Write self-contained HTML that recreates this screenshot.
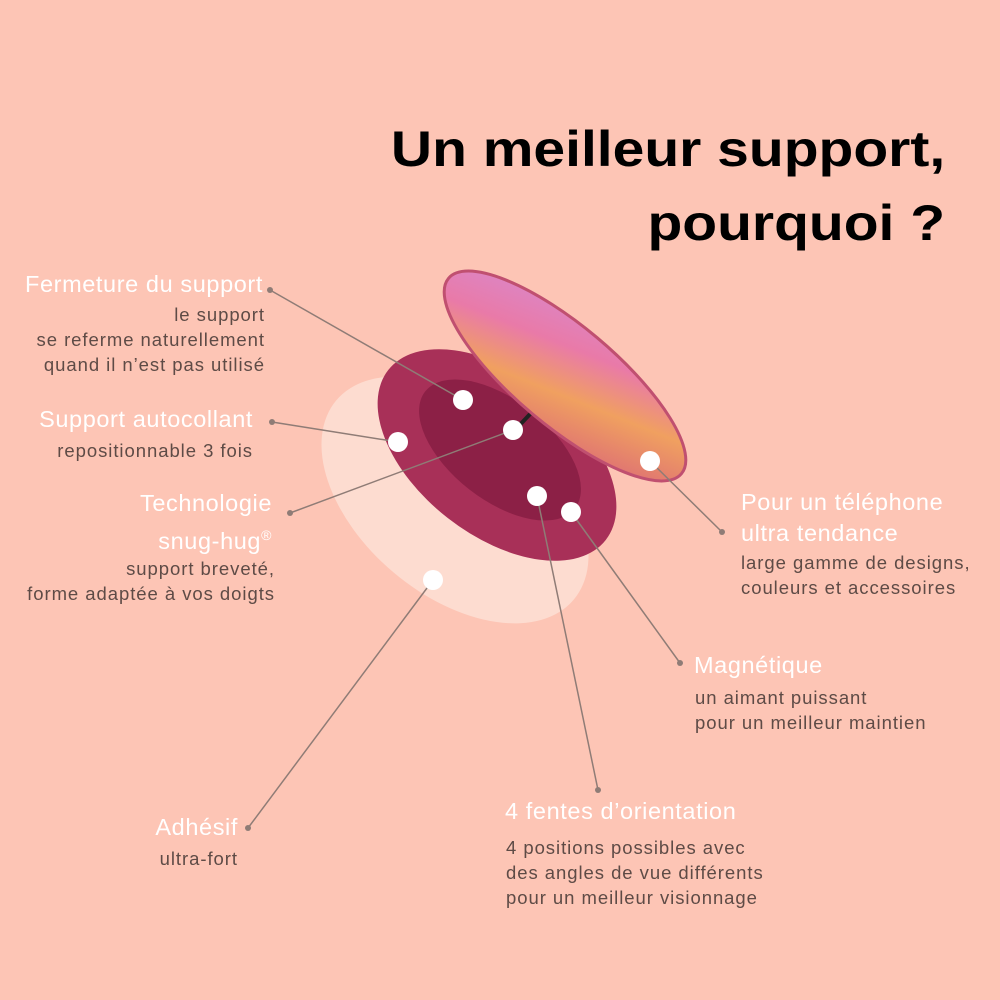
<!DOCTYPE html>
<html><head><meta charset="utf-8"><style>
body{margin:0}
#c{position:relative;width:1000px;height:1000px;background:#fdc5b5;overflow:hidden;font-family:"Liberation Sans",sans-serif}
.t{position:absolute;right:55px;font-weight:bold;font-size:50px;color:#000;line-height:1;transform:scaleX(1.14);transform-origin:right center;white-space:nowrap}
.h{position:absolute;color:#fff;font-size:23.5px;letter-spacing:.6px;white-space:nowrap}
.d{position:absolute;color:#5e4b46;font-size:18.5px;letter-spacing:.95px;line-height:25px;white-space:nowrap}
.r{text-align:right}
</style></head><body><div id="c">
<svg width="1000" height="1000" style="position:absolute;left:0;top:0">
<defs>
<linearGradient id="g" x1="0" y1="0" x2="1" y2="1">
<stop offset="0" stop-color="#d78ad0"/><stop offset=".35" stop-color="#e97aa8"/><stop offset=".6" stop-color="#f0a060"/><stop offset="1" stop-color="#d8607a"/></linearGradient>
</defs>
<ellipse cx="455" cy="500" rx="155" ry="95" transform="rotate(40 455 500)" fill="#fddcd0"/>
<ellipse cx="497" cy="455" rx="138" ry="80" transform="rotate(38 497 455)" fill="#a83058"/>
<ellipse cx="500" cy="450" rx="95" ry="50" transform="rotate(38 500 450)" fill="#8c2046"/>
<line x1="515" y1="430" x2="532" y2="412" stroke="#222" stroke-width="4"/>
<ellipse cx="565" cy="376" rx="152" ry="50" transform="rotate(40 565 376)" fill="url(#g)" stroke="#c05070" stroke-width="3"/>
<g stroke="#8f7c76" stroke-width="1.5" fill="none">
<line x1="270" y1="290" x2="463" y2="400"/>
<line x1="272" y1="422" x2="398" y2="442"/>
<line x1="290" y1="513" x2="513" y2="430"/>
<line x1="433" y1="580" x2="248" y2="828"/>
<line x1="650" y1="461" x2="722" y2="532"/>
<line x1="537" y1="496" x2="598" y2="790"/>
<line x1="571" y1="512" x2="680" y2="663"/>
</g>
<g fill="#8f7c76"><circle cx="270" cy="290" r="3"/><circle cx="272" cy="422" r="3"/><circle cx="290" cy="513" r="3"/><circle cx="248" cy="828" r="3"/><circle cx="722" cy="532" r="3"/><circle cx="598" cy="790" r="3"/><circle cx="680" cy="663" r="3"/></g>
<g fill="#fff"><circle cx="463" cy="400" r="10"/><circle cx="398" cy="442" r="10"/><circle cx="513" cy="430" r="10"/><circle cx="433" cy="580" r="10"/><circle cx="650" cy="461" r="10"/><circle cx="537" cy="496" r="10"/><circle cx="571" cy="512" r="10"/></g>
</svg>
<div class="t" style="top:124px">Un meilleur support,</div>
<div class="t" style="top:198px">pourquoi ?</div>
<div class="h r" style="right:737px;top:271px">Fermeture du support</div>
<div class="d r" style="right:735px;top:302px">le support<br>se referme naturellement<br>quand il n’est pas utilisé</div>
<div class="h r" style="right:747px;top:406px">Support autocollant</div>
<div class="d r" style="right:747px;top:438px">repositionnable 3 fois</div>
<div class="h r" style="right:728px;top:487px;line-height:32px">Technologie<br>snug-hug<sup style="font-size:14px">®</sup></div>
<div class="d r" style="right:725px;top:556px">support breveté,<br>forme adaptée à vos doigts</div>
<div class="h r" style="right:762px;top:814px">Adhésif</div>
<div class="d r" style="right:762px;top:846px">ultra-fort</div>
<div class="h" style="left:741px;top:487px;line-height:31px">Pour un téléphone<br>ultra tendance</div>
<div class="d" style="left:741px;top:550px">large gamme de designs,<br>couleurs et accessoires</div>
<div class="h" style="left:694px;top:652px">Magnétique</div>
<div class="d" style="left:695px;top:685px">un aimant puissant<br>pour un meilleur maintien</div>
<div class="h" style="left:505px;top:798px">4 fentes d’orientation</div>
<div class="d" style="left:506px;top:835px">4 positions possibles avec<br>des angles de vue différents<br>pour un meilleur visionnage</div>
</div></body></html>
